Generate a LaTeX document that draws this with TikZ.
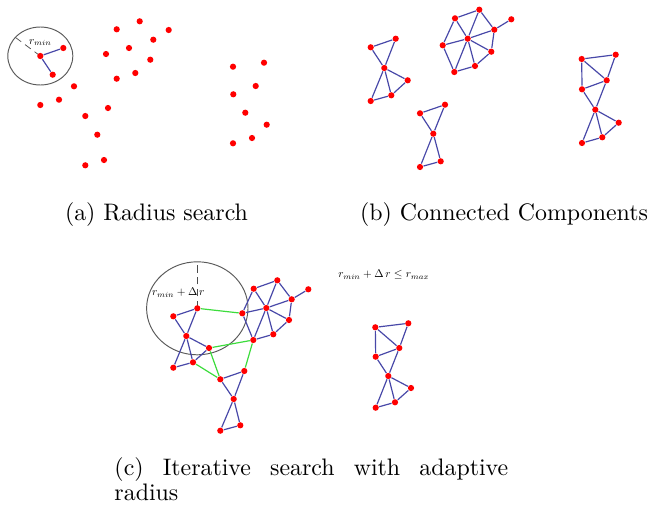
\documentclass[tikz,border=0pt]{standalone}
\usetikzlibrary{positioning,backgrounds}
\definecolor{lnkblue}{RGB}{72,72,168}
\definecolor{lnkgreen}{RGB}{60,220,60}
\begin{document}
\begin{tikzpicture}[x=0.419pt, y=-0.419pt,
  pnt/.style = {circle, fill=red, inner sep=0pt, minimum size=2.6pt},
  lnk/.style = {draw=lnkblue, line width=0.5pt},
  hop/.style = {draw=lnkgreen, line width=0.5pt},
  rng/.style = {draw=black!65, line width=0.4pt},
  rad/.style = {draw=black!70, densely dashed, line width=0.3pt},
  lbl/.style = {scale=0.47, inner sep=0pt},
  capt/.style = {font=\normalsize, inner sep=0pt}
  ]
  \useasboundingbox (0,0) rectangle (651,504);

  % (a) radius search
  \foreach \n/\x/\y in {a1/40.3/56, a2/63.3/48, a3/52.7/74.7,
      a4/116.7/29.3, a5/139.7/21.3, a6/168.7/30, a7/153.3/39.7,
      a8/129/48, a9/106/54, a10/150.3/59.7, a11/135.3/73,
      a12/116.7/78.7, a13/74/86.3, a14/59/99.7, a15/40.3/105,
      a16/108/108, a17/85.3/116, a18/97.3/134.7, a19/104/160,
      a20/85.3/165.3, a21/233/66.7, a22/264/62.7, a23/255.7/86,
      a24/233.3/94.3, a25/245.3/112.7, a26/266.7/124.7,
      a27/252/138, a28/233/143.3}
    \node (\n) [pnt] at (\x,\y) {};
  \draw [lnk] (a1) -- (a2);
  \draw [lnk] (a1) -- (a3);
  \coordinate (arad) at ([shift={(-24.9,-18.6)}]a1.center);
  \node (lbla) [lbl] at (40.3,42.5) {$r_{min}$};

  % (b) connected components
  \foreach \n/\x/\y in {p1/370.7/47.3, p2/395.7/38.7, p3/384.3/68,
      p4/407.7/80.3, p5/391.3/95.3, p6/370.7/101,
      q0/467.7/38.7, q1/442.7/45.3, q2/455/18.3, q3/479.3/9.7,
      q4/494.3/29.7, q5/511.3/19.3, q6/491.3/51.7, q7/475/66,
      q8/454.3/72,
      s1/420/113.3, s2/445/104.7, s3/433.3/133.7, s4/440.7/161.3,
      s5/420/167,
      t1/581.7/59, t2/615.7/54.7, t3/606.7/80.3, t4/582/89.3,
      t5/595.3/109.7, t6/618.7/122.7, t7/602.3/137.3, t8/582/143}
    \node (\n) [pnt] at (\x,\y) {};

  % (c) iterative search
  \foreach \n/\x/\y in {u1/197.3/308.3, u2/173.3/316.3, u3/186.3/336,
      u4/209/348, u5/193/362.3, u6/173.3/367.7,
      v0/266.3/308, v1/242.3/313.3, v2/253.7/288.7, v3/277.3/280.3,
      v4/291.7/299.3, v5/308.3/289.3, v6/289/320, v7/273.3/334.3,
      v8/253.3/340,
      w1/220.3/379.3, w2/244.3/371, w3/233.7/399, w4/240.3/425.3,
      w5/220.3/430.7,
      z1/375.3/327.3, z2/408.3/323.3, z3/399.3/348, z4/375.7/356.7,
      z5/388.3/376, z6/411/388, z7/395/402.3, z8/375.7/407.7}
    \node (\n) [pnt] at (\x,\y) {};

  \foreach \p in {p,u}
    \foreach \i/\j in {1/2,1/3,2/3,3/4,3/5,3/6,4/5,5/6}
      \draw [lnk] (\p\i) -- (\p\j);
  \foreach \p in {q,v}
    \foreach \i/\j in {1/2,2/3,3/4,4/5,4/6,6/7,7/8,8/1,
        0/1,0/2,0/3,0/4,0/6,0/7,0/8}
      \draw [lnk] (\p\i) -- (\p\j);
  \foreach \p in {s,w}
    \foreach \i/\j in {1/2,1/3,2/3,3/4,3/5,4/5}
      \draw [lnk] (\p\i) -- (\p\j);
  \foreach \p in {t,z}
    \foreach \i/\j in {1/2,1/4,1/3,2/3,3/4,4/5,3/5,5/6,5/7,5/8,6/7,7/8}
      \draw [lnk] (\p\i) -- (\p\j);
  \foreach \i/\j in {u1/v1, u4/v8, u4/w1, u5/w1, v8/w2}
    \draw [hop] (\i) -- (\j);

  \coordinate (crad) at ([shift={(0,-46.5)}]u1.center);
  \node (lblc) [lbl] at (178.3,292.7) {$r_{min}+\Delta\, r$};
  \node (lblmax) [lbl] at (383.8,275) {$r_{min}+\Delta\, r\le r_{max}$};

  \begin{scope}[on background layer]
    \draw [rng] (a1.center) ellipse [x radius=32.5, y radius=29];
    \draw [rad] (a1.center) -- (arad);
    \draw [rng] (u1.center) ellipse [x radius=50.7, y radius=46.5];
    \draw [rad] (u1.center) -- (crad);
  \end{scope}

  \node (capa) [capt, anchor=base] at (156.5,220) {(a) Radius search};
  \node (capb) [capt, anchor=base] at (504,220) {(b) Connected Components};
  \node (capc) [capt, font={\fontsize{10}{10.5}\selectfont\hyphenpenalty=10000},
    anchor=north west, text width=165pt, align=justify] at (114,457)
    {(c) Iterative search with adaptive radius};
\end{tikzpicture}
\end{document}
